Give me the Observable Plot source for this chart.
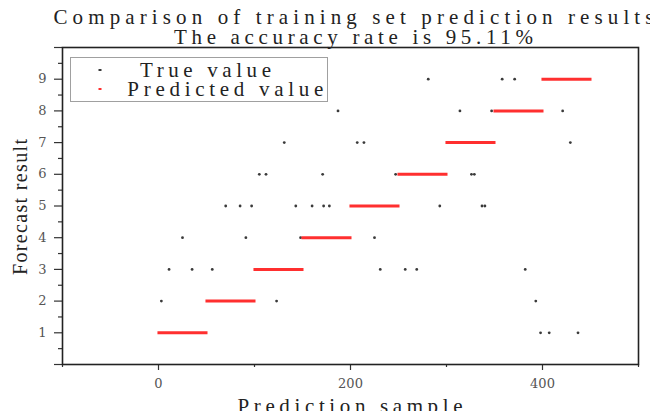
<!DOCTYPE html>
<html>
<head>
<meta charset="utf-8">
<script src="https://cdn.jsdelivr.net/npm/d3@7"></script>
<script src="https://cdn.jsdelivr.net/npm/@observablehq/plot@0.6"></script>
<style>
  body { margin: 0; background: #fff; }
  svg { display: block; }
</style>
</head>
<body>
<div id="chart"></div>
<script>
// ---- text ----
const titleLines = ["Comparison of training set prediction results", "The accuracy rate is 95.11%"];
const xLabel = "Prediction sample";
const yLabel = "Forecast result";
const legendLabels = ["True value", "Predicted value"];

// ---- predicted value: runs of samples per predicted class ----
const predClass = [1, 2, 3, 4, 5, 6, 7, 8, 9];
const predFirst = [1, 51, 101, 151, 201, 251, 301, 351, 401];
const predLast  = [50, 100, 150, 200, 250, 300, 350, 400, 450];

// ---- true values visible where they differ from the prediction ----
const trueSample = [3, 11, 25, 35, 56, 70, 85, 91, 97, 105, 112, 123, 131, 143, 148, 160, 171, 172, 178, 187,
                    207, 214, 225, 231, 247, 257, 269, 281, 293, 314, 326, 329, 337, 340, 347, 358, 371, 382,
                    393, 398, 407, 421, 429, 437];
const trueClass  = [2, 3, 4, 3, 3, 5, 5, 4, 5, 6, 6, 2, 7, 5, 4, 5, 6, 5, 5, 8,
                    7, 7, 4, 3, 6, 3, 3, 9, 5, 8, 6, 6, 5, 5, 8, 9, 9, 3,
                    2, 1, 1, 8, 7, 1];

// ---- ticks ----
const xMajorTicks = [0, 200, 400];
const xMinorTicks = [-100, 100, 300, 500];
const yMajorTicks = [0, 1, 2, 3, 4, 5, 6, 7, 8, 9, 10];
const yTickLabels = ["", "1", "2", "3", "4", "5", "6", "7", "8", "9", ""];
const yMinorTicks = [0.5, 1.5, 2.5, 3.5, 4.5, 5.5, 6.5, 7.5, 8.5, 9.5];

const predicted = predClass.map((c, i) => ({cls: c, first: predFirst[i], last: predLast[i]}));
const trueVals = trueSample.map((s, i) => ({sample: s, cls: trueClass[i]}));

const TEXTFONT = "'Liberation Serif', 'DejaVu Serif', serif";
const TICKFONT = "'DejaVu Serif', 'Liberation Serif', serif";
const RED = "#ff2f2f";
const DOT = "#3a3a3a";

const plot = Plot.plot({
  width: 650,
  height: 411,
  marginLeft: 62,
  marginRight: 12,
  marginTop: 47,
  marginBottom: 47,
  x: {domain: [-100, 500]},
  y: {domain: [0, 10]},
  style: {background: "#fff", color: "#333", fontFamily: TICKFONT, overflow: "hidden"},
  marks: [
    Plot.dot(trueVals, {x: "sample", y: "cls", r: 1.4, fill: DOT, stroke: null}),
    Plot.ruleY(predicted, {y: "cls", x1: "first", x2: "last", stroke: RED, strokeWidth: 3, strokeLinecap: "square"}),
    Plot.axisY({ticks: yMinorTicks, tickSize: 4, tickFormat: () => "", label: null, stroke: "#333", strokeWidth: 1.2}),
    Plot.axisY({ticks: yMajorTicks, tickSize: 8, tickPadding: 8, tickFormat: (d) => yTickLabels[yMajorTicks.indexOf(d)],
                label: null, stroke: "#333", strokeWidth: 1.2, fill: "#555", fontSize: 13, fontFamily: TICKFONT}),
    Plot.axisX({ticks: xMinorTicks, tickSize: 3, tickFormat: () => "", label: null, stroke: "#333", strokeWidth: 1.2}),
    Plot.axisX({ticks: xMajorTicks, tickSize: 6, tickPadding: 8, label: null, stroke: "#333", strokeWidth: 1.2,
                fill: "#555", fontSize: 13, fontFamily: TICKFONT}),
    Plot.frame({stroke: "#222", strokeWidth: 1.6})
  ]
});

const svg = d3.select(plot);

// text helper: start-anchored, stretched to the monospaced width of the original
function addText(parent, str, x, y, size, len, rotate) {
  return parent.append("text")
    .attr("transform", `translate(${x},${y})` + (rotate ? ` rotate(${rotate})` : ""))
    .attr("text-anchor", "start")
    .attr("font-family", TEXTFONT)
    .attr("font-size", size)
    .attr("fill", "#222")
    .attr("textLength", len)
    .attr("lengthAdjust", "spacing")
    .text(str);
}

const labels = svg.append("g").attr("class", "labels");
addText(labels, titleLines[0], 53.5, 24, 21, 600);
addText(labels, titleLines[1], 174, 43.5, 21, 359);
addText(labels, xLabel, 237.5, 412.5, 21, 225);
addText(labels, yLabel, 27, 275, 20, 136, -90);

// legend
const lg = svg.append("g").attr("class", "legend");
lg.append("rect").attr("x", 70.5).attr("y", 57.5).attr("width", 257).attr("height", 44)
  .attr("fill", "#fff").attr("stroke", "#a0a0a0").attr("stroke-width", 1);
lg.append("rect").attr("x", 98.5).attr("y", 69).attr("width", 3).attr("height", 2).attr("fill", DOT);
lg.append("rect").attr("x", 98.5).attr("y", 88).attr("width", 3).attr("height", 2).attr("fill", RED);
addText(lg, legendLabels[0], 140, 76.7, 21, 131);
addText(lg, legendLabels[1], 127.3, 95.7, 21, 196);

document.getElementById("chart").appendChild(plot);
</script>
</body>
</html>
